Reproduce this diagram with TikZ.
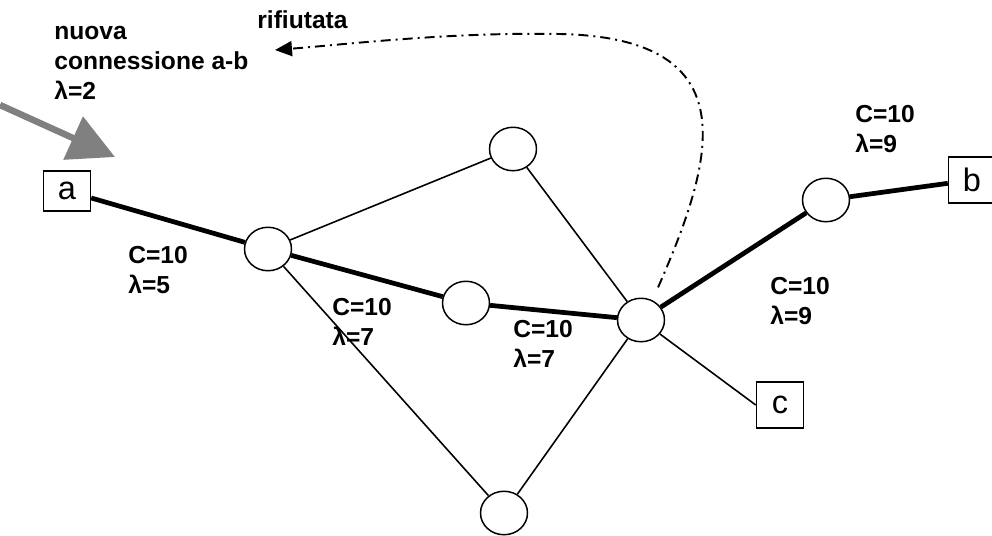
\documentclass[tikz,border=0pt]{standalone}
\usepackage{fontspec}
\setmainfont{Liberation Sans}
\usetikzlibrary{arrows.meta,shapes.geometric}

\begin{document}
\begin{tikzpicture}[
  x=0.02cm, y=-0.02cm,
  term/.style={draw, line width=0.85pt, minimum width=0.94cm, minimum height=0.92cm, inner sep=0pt, font=\fontsize{18.5}{22}\selectfont},
  sw/.style={draw, ellipse, line width=0.85pt, fill=white, minimum width=0.94cm, minimum height=0.87cm, inner sep=0pt},
  lab/.style={anchor=north west, align=left, inner sep=0pt, font=\bfseries\fontsize{14}{17}\selectfont},
  link/.style={line width=0.9pt},
  heavy/.style={line width=2.7pt},
  rej/.style={line width=1.1pt, dash pattern=on 0.2cm off 0.1cm on 0.04cm off 0.1cm, -{Triangle[length=0.34cm,width=0.3cm]}},
  req/.style={gray, line width=3.7pt, -{Triangle[length=0.92cm,width=0.92cm]}}
]
\useasboundingbox (0,0) rectangle (992,535);
% end points
\node[term, minimum height=0.8cm] (a) at (67,191) {a};
\node[term] (b) at (972,180) {b};
\node[term] (c) at (780,405) {c};
% switches
\node[sw] (s1) at (268,249) {};
\node[sw] (s2) at (513,149) {};
\node[sw] (s3) at (466,303) {};
\node[sw] (s4) at (641,320) {};
\node[sw] (s5) at (504,513) {};
\node[sw] (s6) at (826,200) {};
% links
\draw[link] (s1) -- (s2) -- (s4);
\draw[link] (s1) -- (s5) -- (s4);
\draw[link] (s4) -- (c.west);
\draw[heavy] (a) -- (s1) -- (s3) -- (s4) -- (s6) -- (b);
% capacity / load
\node[lab] (l1) at (128,246) {C=10\\λ=5};
\node[lab] (l2) at (332,298) {C=10\\λ=7};
\node[lab] (l3) at (513,320) {C=10\\λ=7};
\node[lab] (l4) at (770,277) {C=10\\λ=9};
\node[lab] (l5) at (855,105) {C=10\\λ=9};
\node[lab] (new) at (54,26) {nuova\\connessione a-b\\λ=2};
\node[lab] (no) at (257,10) {rifiutata};
% request and refusal
\coordinate (src) at (0,105);
\coordinate (hit) at (115,157);
\draw[req] (src) -- (hit);
\coordinate (back) at (275,50);
\draw[rej, shorten <=0.28cm] (s4.60) .. controls (714,160) and (750,38) .. (560,34) .. controls (450,32) and (350,44) .. (back);
\end{tikzpicture}
\end{document}
